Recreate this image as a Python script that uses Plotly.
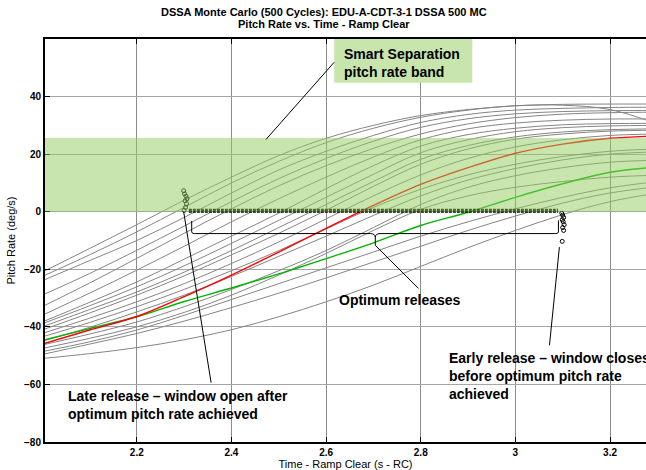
import plotly.graph_objects as go

# ---------------- data ----------------
time_s = [2.0, 2.1, 2.2, 2.3, 2.4, 2.5, 2.6, 2.7, 2.8, 2.9, 3.0, 3.1, 3.2, 3.3]

gray_runs = [
    [-21.0, -12.8, -4.5, 4.0, 12.0, 19.5, 25.5, 30.0, 33.4, 35.5, 36.8, 37.3, 37.4, 37.4],
    [-22.5, -15.0, -7.0, 1.5, 10.0, 17.5, 24.0, 29.0, 32.8, 35.3, 36.8, 37.0, 35.5, 30.5],
    [-24.0, -17.0, -10.0, -2.0, 6.5, 14.5, 21.0, 26.5, 31.0, 33.8, 35.3, 35.9, 36.2, 36.3],
    [-29.0, -21.5, -13.4, -5.0, 3.5, 11.5, 18.5, 24.5, 29.3, 32.3, 34.0, 34.8, 35.1, 35.2],
    [-33.0, -24.8, -16.2, -7.5, 1.0, 9.0, 16.0, 22.0, 27.0, 30.5, 32.7, 33.9, 34.4, 34.6],
    [-36.0, -28.3, -20.3, -12.0, -3.5, 4.5, 12.0, 19.0, 25.0, 28.8, 30.8, 31.8, 32.2, 32.2],
    [-38.3, -31.5, -24.4, -16.5, -8.5, -0.5, 8.0, 16.0, 22.8, 26.8, 29.0, 30.2, 30.6, 30.7],
    [-38.9, -32.7, -26.1, -18.8, -11.0, -3.0, 5.0, 13.0, 20.5, 25.0, 27.8, 29.2, 29.8, 30.0],
    [-40.0, -34.0, -27.9, -21.0, -13.5, -5.5, 2.5, 10.5, 18.2, 23.0, 26.0, 27.7, 28.5, 28.8],
    [-41.1, -35.2, -29.0, -22.3, -15.0, -7.5, 0.5, 8.8, 16.5, 21.8, 25.2, 27.0, 28.0, 28.3],
    [-42.3, -37.0, -31.3, -25.0, -18.0, -10.5, -2.5, 5.5, 12.8, 18.5, 22.5, 25.0, 26.5, 27.0],
    [-43.5, -38.5, -33.0, -27.0, -20.5, -13.5, -6.0, 1.5, 7.8, 12.8, 16.5, 19.2, 21.0, 21.8],
    [-45.0, -40.2, -34.8, -29.0, -22.5, -15.5, -8.5, -1.3, 5.5, 11.0, 15.0, 18.0, 20.0, 20.8],
    [-46.3, -42.5, -38.3, -33.0, -27.0, -20.5, -13.5, -5.5, 2.5, 8.5, 12.5, 15.3, 17.2, 17.9],
    [-47.5, -44.0, -40.0, -35.0, -29.0, -22.0, -14.5, -6.5, 0.8, 5.5, 8.5, 10.5, 12.0, 12.7],
    [-48.6, -45.2, -41.1, -36.0, -30.5, -25.0, -19.5, -14.0, -8.5, -3.5, 1.0, 5.0, 8.3, 10.5],
    [-49.6, -46.0, -42.3, -38.0, -33.3, -28.3, -23.0, -17.5, -12.0, -6.5, -1.5, 3.0, 6.5, 8.7],
    [-51.0, -49.3, -47.2, -44.5, -41.0, -36.5, -31.3, -25.5, -19.0, -12.5, -6.5, -1.0, 3.5, 6.5],
]

red_run = [-46.0, -41.1, -36.4, -29.5, -22.0, -14.0, -5.8, 2.2, 9.5, 15.3, 20.3, 23.5, 25.5, 26.3]
green_run = [-44.7, -40.6, -36.5, -31.2, -26.5, -21.6, -16.3, -10.8, -4.8, -0.2, 5.0, 9.7, 13.7, 15.5]

# release points
optimum_window_x = [2.31, 3.09]
optimum_window_y = [0.3, 0.3]
late_x = [2.300, 2.303, 2.305, 2.302, 2.306, 2.304, 2.301, 2.299]
late_y = [0.5, 1.5, 2.8, 3.8, 4.5, 5.4, 6.2, 7.3]
early_x = [3.098, 3.100, 3.102, 3.099, 3.101, 3.103, 3.100, 3.102, 3.099]
early_y = [-0.5, -1.2, -2.0, -2.8, -3.5, -4.5, -5.5, -6.5, -10.3]

band_low, band_high = 0.0, 25.6

x_ticks = [2.2, 2.4, 2.6, 2.8, 3.0, 3.2]
x_tick_text = ["2.2", "2.4", "2.6", "2.8", "3", "3.2"]
y_ticks = [-80, -60, -40, -20, 0, 20, 40]

title_lines = ["DSSA Monte Carlo (500 Cycles): EDU-A-CDT-3-1 DSSA 500 MC",
               "Pitch Rate vs. Time - Ramp Clear"]

# ---------------- figure ----------------
FONT = "Arial, Liberation Sans, sans-serif"
fig = go.Figure()

for run in gray_runs:
    fig.add_trace(go.Scatter(x=time_s, y=run, mode="lines", line=dict(color="#858585", width=1, shape="spline"),
                             showlegend=False, hoverinfo="skip"))
fig.add_trace(go.Scatter(x=time_s, y=green_run, mode="lines", line=dict(color="#00b400", width=1.4, shape="spline"),
                         showlegend=False))
fig.add_trace(go.Scatter(x=time_s, y=red_run, mode="lines", line=dict(color="#ff0000", width=1.4, shape="spline"),
                         showlegend=False))

fig.add_trace(go.Scatter(x=optimum_window_x, y=optimum_window_y, mode="lines",
                         line=dict(color="black", width=4, dash="3px,1px"), showlegend=False))
fig.add_trace(go.Scatter(x=late_x, y=late_y, mode="markers",
                         marker=dict(symbol="circle-open", size=4, color="black", line=dict(width=1)),
                         showlegend=False))
fig.add_trace(go.Scatter(x=early_x, y=early_y, mode="markers",
                         marker=dict(symbol="circle-open", size=4, color="black", line=dict(width=1)),
                         showlegend=False))

shapes = [
    dict(type="rect", xref="paper", yref="y", x0=0, x1=1, y0=band_low, y1=band_high,
         fillcolor="rgba(147,203,93,0.5)", line=dict(width=0), layer="above"),
    dict(type="rect", xref="x", yref="y", x0=2.617, x1=2.909, y0=44.8, y1=60,
         fillcolor="#c9e5ae", line=dict(width=0), layer="above"),
    dict(type="line", xref="x", yref="y", x0=2.617, y0=51.9, x1=2.473, y1=25.1,
         line=dict(color="black", width=1), layer="above"),
    dict(type="line", xref="x", yref="y", x0=2.704, y0=-11.7, x1=2.795, y1=-26.6,
         line=dict(color="black", width=1), layer="above"),
    dict(type="line", xref="x", yref="y", x0=2.299, y0=0, x1=2.357, y1=-59.4,
         line=dict(color="black", width=1), layer="above"),
    dict(type="line", xref="x", yref="y", x0=3.093, y0=-12.3, x1=3.072, y1=-46.4,
         line=dict(color="black", width=1), layer="above"),
    dict(type="path", xref="x", yref="y", layer="above",
         path="M 2.316,-3.2 L 2.316,-7.0 Q 2.316,-7.6 2.322,-7.6 L 2.694,-7.6 Q 2.704,-7.6 2.704,-9.0 L 2.704,-11.7 "
              "M 2.704,-9.0 Q 2.704,-7.6 2.714,-7.6 L 3.085,-7.6 Q 3.091,-7.6 3.091,-7.0 L 3.091,-3.0",
         line=dict(color="black", width=1)),
]

ann_font = dict(family=FONT, size=14, color="black")
title_font = dict(family=FONT, size=11, color="black")
annotations = [
    dict(x=0.4642, y=1.067, xref="paper", yref="paper", xanchor="center", yanchor="middle",
         text="<b>" + title_lines[0] + "</b>", showarrow=False, font=title_font),
    dict(x=0.4642, y=1.037, xref="paper", yref="paper", xanchor="center", yanchor="middle",
         text="<b>" + title_lines[1] + "</b>", showarrow=False, font=title_font),
    dict(x=2.633, y=51.8, xref="x", yref="y", xanchor="left", yanchor="middle", align="left",
         text="<b>Smart Separation<br>pitch rate band</b>", showarrow=False, font=ann_font),
    dict(x=2.757, y=-30.5, xref="x", yref="y", xanchor="center", yanchor="middle",
         text="<b>Optimum releases</b>", showarrow=False, font=ann_font),
    dict(x=2.050, y=-67.3, xref="x", yref="y", xanchor="left", yanchor="middle", align="left",
         text="<b>Late release \u2013 window open after<br>optimum pitch rate achieved</b>",
         showarrow=False, font=ann_font),
    dict(x=2.855, y=-57.1, xref="x", yref="y", xanchor="left", yanchor="middle", align="left",
         text="<b>Early release \u2013 window closes<br>before optimum pitch rate<br>achieved</b>",
         showarrow=False, font=ann_font),
]

fig.update_layout(
    width=646, height=470,
    margin=dict(l=45, r=0, t=39, b=28),
    paper_bgcolor="white", plot_bgcolor="white",
    font=dict(family=FONT, color="black"),
    shapes=shapes,
    annotations=annotations,
    showlegend=False,
)

fig.update_xaxes(
    range=[2.006, 3.276], tickvals=x_ticks, ticktext=x_tick_text,
    showgrid=True, gridcolor="#8c8c8c", gridwidth=1,
    ticks="inside", ticklen=5, tickcolor="black",
    showline=True, linecolor="black", linewidth=2, mirror="ticks",
    tickfont=dict(family=FONT, size=10, color="black", weight="bold"),
    title=dict(text="Time - Ramp Clear (s - RC)", font=dict(family=FONT, size=11, color="black"), standoff=1),
    zeroline=False, automargin=False,
)
fig.update_yaxes(
    range=[-80, 60], tickvals=y_ticks,
    showgrid=True, gridcolor="#a6a6a6", gridwidth=1,
    ticks="inside", ticklen=5, tickcolor="black",
    showline=True, linecolor="black", linewidth=2, mirror=False,
    tickfont=dict(family=FONT, size=10, color="black", weight="bold"),
    title=dict(text="Pitch Rate (deg/s)", font=dict(family=FONT, size=11, color="black"), standoff=6),
    zeroline=False, automargin=False,
)

fig.write_html("out.html", config={"displayModeBar": False},
               post_script="document.body.style.margin='0';document.body.style.padding='0';")
